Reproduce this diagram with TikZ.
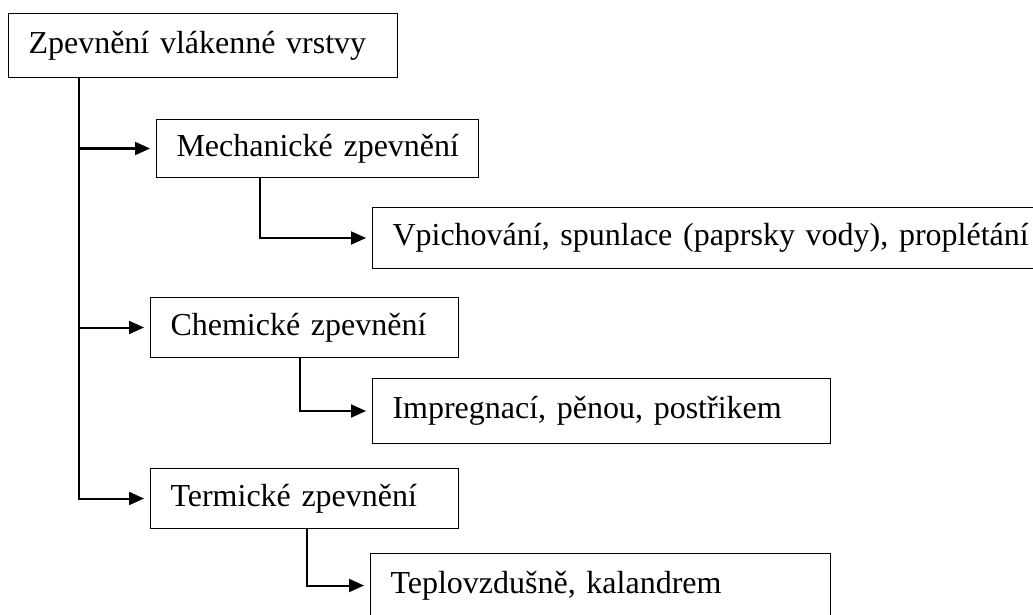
\documentclass[tikz,border=0pt]{standalone}
\usepackage{fontspec}
\setmainfont{Liberation Serif}
\usetikzlibrary{arrows.meta}
\tikzset{
  box/.style={draw, line width=1pt, anchor=north west, inner xsep=20pt, inner ysep=0pt, align=left, font=\fontsize{32}{38}\selectfont},
  conn/.style={line width=2pt, shorten >=6pt}
}
\begin{document}
\begin{tikzpicture}[x=1pt,y=-1pt,>={Triangle[length=15pt,width=13pt]}, line join=miter]
            \useasboundingbox (0,0) rectangle (1033,615);
            \clip (0,0) rectangle (1033,615);
            \node[box, text width=349pt, minimum height=64pt] (root) at (8,13) {Zpevnění vlákenné vrstvy};
            \node[box, text width=282pt, minimum height=58pt] (mech) at (156,119) {\mbox{Mechanické zpevnění}};
            \node[box, text width=638pt, minimum height=61pt] (vpich) at (372,207) {Vpichování, spunlace (paprsky vody), proplétání};
            \node[box, text width=268pt, minimum height=60pt] (chem) at (150,297) {Chemické zpevnění};
            \node[box, text width=418pt, minimum height=65pt] (impr) at (372,378) {Impregnací, pěnou, postřikem};
            \node[box, text width=268pt, minimum height=60pt] (term) at (150,468) {Termické zpevnění};
            \node[box, text width=420pt, minimum height=64pt] (tepl) at (370,553) {Teplovzdušně, kalandrem};
            \coordinate (t) at (79,0);
            \coordinate (m) at (260,0);
            \coordinate (c) at (300,0);
            \coordinate (p) at (307,0);
            \draw[conn,->] (root.south -| t) |- (term.west);
            \draw[conn,->] (mech.west -| t) -- (mech.west);
            \draw[conn,->] (chem.west -| t) -- (chem.west);
            \draw[conn,->] (mech.south -| m) |- (vpich.west);
            \draw[conn,->] (chem.south -| c) |- (impr.west);
            \draw[conn,->] (term.south -| p) |- (tepl.west);
        \end{tikzpicture}
\end{document}
